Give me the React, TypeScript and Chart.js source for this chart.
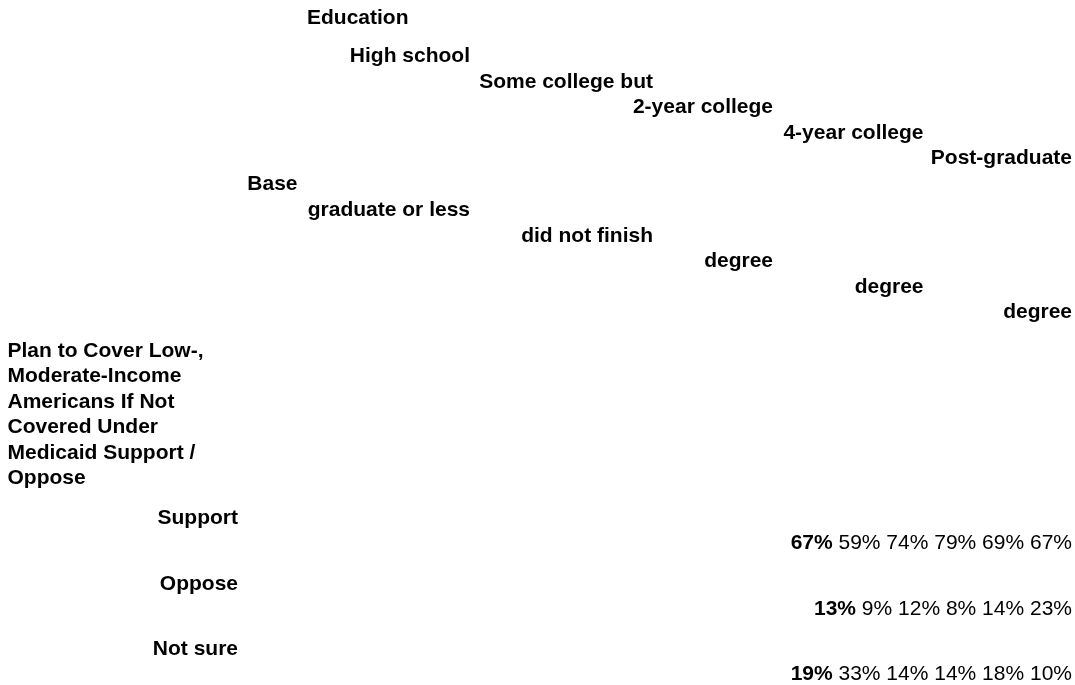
import { useEffect, useRef } from "react";
import { Chart, registerables } from "chart.js";

Chart.register(...registerables);

// ---------- data ----------
const groupTitle = "Education";
const baseLabel = "Base";
const categoryLine1 = ["High school", "Some college but", "2-year college", "4-year college", "Post-graduate"];
const categoryLine2 = ["graduate or less", "did not finish", "degree", "degree", "degree"];
const questionLines = [
  "Plan to Cover Low-,",
  "Moderate-Income",
  "Americans If Not",
  "Covered Under",
  "Medicaid Support /",
  "Oppose",
];
const responses = ["Support", "Oppose", "Not sure"];
const baseValues = [67, 13, 19];
const highSchoolValues = [59, 9, 33];
const someCollegeValues = [74, 12, 14];
const twoYearValues = [79, 8, 14];
const fourYearValues = [69, 14, 18];
const postGradValues = [67, 23, 10];
const categoryValues = [highSchoolValues, someCollegeValues, twoYearValues, fourYearValues, postGradValues];

// ---------- layout / style ----------
const W = 1075;
const H = 685;
const FONT_FAMILY = '"Liberation Sans", Arial, Helvetica, sans-serif';
const FONT_SIZE = 21;
const LINE = 25.5;
const L = {
  titleX: 307,
  titleY: 24,
  baseRight: 297.5,
  baseY: 190,
  colRights: [470, 653, 773, 923.5, 1072],
  line1Y0: 62,
  line2Y0: 216,
  questionX: 7.5,
  questionY0: 356.7,
  responseRight: 238,
  responseY0: 524,
  rowGap: 65.5,
  valuesRight: 1072,
  valuesDy: 25.3,
};

const textPlugin = {
  id: "tableText",
  afterDraw(chart: any) {
    const { ctx } = chart;
    const sx = chart.scales.x;
    const sy = chart.scales.y;
    const X = (v: number) => sx.getPixelForValue(v);
    const Y = (v: number) => sy.getPixelForValue(v);
    const bold = `bold ${FONT_SIZE}px ${FONT_FAMILY}`;
    const normal = `${FONT_SIZE}px ${FONT_FAMILY}`;
    ctx.save();
    ctx.fillStyle = "#000000";
    ctx.textBaseline = "alphabetic";
    const put = (t: string, x: number, y: number, align: CanvasTextAlign, font: string) => {
      ctx.font = font;
      ctx.textAlign = align;
      ctx.fillText(t, X(x), Y(y));
    };

    put(groupTitle, L.titleX, L.titleY, "left", bold);
    categoryLine1.forEach((t, i) => put(t, L.colRights[i], L.line1Y0 + i * LINE, "right", bold));
    put(baseLabel, L.baseRight, L.baseY, "right", bold);
    categoryLine2.forEach((t, i) => put(t, L.colRights[i], L.line2Y0 + i * LINE, "right", bold));
    questionLines.forEach((t, i) => put(t, L.questionX, L.questionY0 + i * LINE, "left", bold));

    const ds = chart.data.datasets;
    responses.forEach((r, i) => {
      const y = L.responseY0 + i * L.rowGap;
      put(r, L.responseRight, y, "right", bold);
      const rest = ds
        .slice(1)
        .map((d: any) => " " + d.data[i] + "%")
        .join("");
      ctx.font = normal;
      const w = ctx.measureText(rest).width;
      put(rest, L.valuesRight, y + L.valuesDy, "right", normal);
      put(ds[0].data[i] + "%", L.valuesRight - w, y + L.valuesDy, "right", bold);
    });
    ctx.restore();
  },
};

export default function App() {
  const canvasRef = useRef<HTMLCanvasElement | null>(null);

  useEffect(() => {
    if (!canvasRef.current) return;
    const datasets = [
      { label: baseLabel, data: baseValues, pointRadius: 0, showLine: false },
      ...categoryValues.map((vals, i) => ({
        label: categoryLine1[i] + " " + categoryLine2[i],
        data: vals,
        pointRadius: 0,
        showLine: false,
      })),
    ];
    const chart = new Chart(canvasRef.current, {
      type: "scatter",
      data: { datasets } as any,
      options: {
        animation: false,
        responsive: false,
        devicePixelRatio: 1,
        events: [],
        layout: { padding: 0 },
        plugins: {
          legend: { display: false },
          tooltip: { enabled: false },
          title: { display: false },
        },
        scales: {
          x: { type: "linear", min: 0, max: W, display: false },
          y: { type: "linear", min: 0, max: H, reverse: true, display: false },
        },
      },
      plugins: [textPlugin],
    });
    return () => chart.destroy();
  }, []);

  return (
    <div style={{ position: "absolute", left: 0, top: 0, width: W, height: H, background: "#ffffff" }}>
      <canvas ref={canvasRef} width={W} height={H} style={{ display: "block", width: W, height: H }} />
    </div>
  );
}
